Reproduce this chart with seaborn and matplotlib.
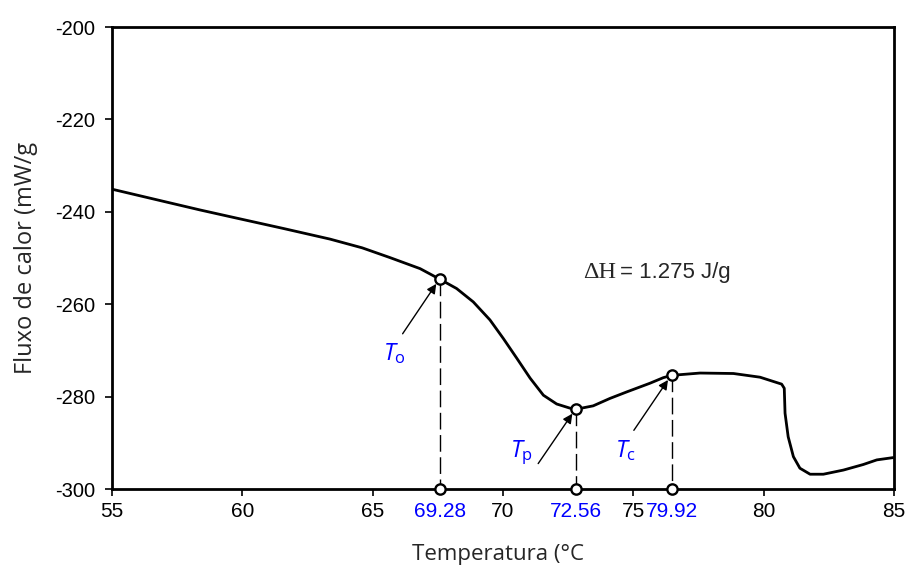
import numpy as np
import pandas as pd
import matplotlib
matplotlib.use("Agg")
import matplotlib.pyplot as plt
import seaborn as sns

# ---- data ----
temp = [55.00, 57.10, 58.38, 59.65, 61.57, 63.36, 64.60, 65.66, 66.82, 67.58,
        68.22, 68.86, 69.50, 70.01, 70.53, 71.04, 71.55, 72.06, 72.57, 72.83,
        73.46, 74.10, 74.74, 75.64, 76.15, 76.47, 77.56, 78.84, 79.86, 80.69,
        80.79, 80.82, 80.94, 81.14, 81.39, 81.78, 82.29, 83.06, 83.82, 84.34, 84.97]
flux = [-235.1, -237.9, -239.6, -241.2, -243.6, -245.9, -247.8, -249.9, -252.3, -254.6,
        -256.6, -259.5, -263.4, -267.4, -271.7, -276.0, -279.7, -281.6, -282.5, -282.7,
        -282.0, -280.4, -279.0, -277.1, -275.9, -275.4, -274.9, -275.0, -275.8, -277.3,
        -278.2, -283.6, -288.7, -293.0, -295.5, -296.8, -296.8, -295.9, -294.7, -293.7, -293.2]

# characteristic points (marker positions on the curve) and their labels
point_x = [67.58, 72.80, 76.47]
point_y = [-254.6, -282.7, -275.4]
point_labels = ["69.28", "72.56", "79.92"]
point_names = [r"$\mathit{T}_\mathrm{o}$", r"$\mathit{T}_\mathrm{p}$", r"$\mathit{T}_\mathrm{c}$"]
name_pos = [(65.40, -272.2), (70.27, -293.1), (74.29, -293.1)]
arrow_tail = [(66.15, -266.4), (71.35, -294.5), (75.02, -287.3)]

xticks = [55, 60, 65, 70, 75, 80, 85]
yticks = [-300, -280, -260, -240, -220, -200]

dh_symbol_pos = (73.07, -253.2)
dh_value_pos = (74.49, -253.2)

# ---- style ----
sns.set_theme(style="white")
plt.rcParams["font.family"] = ["Liberation Sans", "DejaVu Sans"]
plt.rcParams["axes.unicode_minus"] = False
plt.rcParams["mathtext.fontset"] = "custom"
plt.rcParams["mathtext.it"] = "Open Sans:italic"
plt.rcParams["mathtext.rm"] = "Open Sans"
plt.rcParams["lines.solid_joinstyle"] = "round"

fig = plt.figure(figsize=(9.08, 5.70), dpi=100)
ax = fig.add_axes([0.1233, 0.1421, 0.8613, 0.8105])

df = pd.DataFrame({"T": temp, "F": flux})
sns.lineplot(data=df, x="T", y="F", ax=ax, color="black", lw=2.0, sort=False, zorder=3)

blue = "#0000FF"
for px, py in zip(point_x, point_y):
    ax.plot([px, px], [py, -300], color="black", lw=1.0, dashes=(12, 4), zorder=2)

mk = dict(marker="o", s=55, facecolor="white", edgecolor="black", linewidth=1.7, zorder=5, clip_on=False)
sns.scatterplot(x=point_x, y=point_y, ax=ax, **mk)
sns.scatterplot(x=point_x, y=[-300] * len(point_x), ax=ax, **mk)

for (nx, ny), name in zip(name_pos, point_names):
    ax.text(nx, ny, name, color=blue, fontsize=17, ha="left", va="baseline")

for (tx, ty), hx, hy in zip(arrow_tail, point_x, point_y):
    ax.annotate("", xy=(hx - 0.14, hy - 1.0), xytext=(tx, ty),
                arrowprops=dict(arrowstyle="-|>", color="black", lw=1.0,
                                mutation_scale=14, shrinkA=0, shrinkB=0), zorder=4)

ax.text(dh_symbol_pos[0], dh_symbol_pos[1], "ΔH", family="Liberation Serif",
        fontsize=17.5, ha="left", va="center")
ax.text(dh_value_pos[0], dh_value_pos[1], "= 1.275 J/g", fontsize=16,
        ha="left", va="center")

ax.set_xlim(55, 85)
ax.set_ylim(-300, -200)
ax.set_xticks(xticks)
ax.set_yticks(yticks)
ax.tick_params(axis="x", direction="out", length=5, width=1.2, labelsize=15, pad=4,
               bottom=True, top=False, colors="black")
ax.tick_params(axis="y", direction="out", length=5, width=1.2, labelsize=14.5, pad=7,
               left=True, right=False, colors="black")

for px, lab in zip(point_x, point_labels):
    ax.annotate(lab, xy=(px, 0), xycoords=("data", "axes fraction"),
                xytext=(0, -(5 + 4)), textcoords="offset points",
                ha="center", va="top", fontsize=15, color=blue)

for s in ax.spines.values():
    s.set_color("black")
    s.set_linewidth(2.0)
    s.set_visible(True)

ax.set_xlabel("Temperatura (°C", fontsize=16, family="Open Sans")
ax.xaxis.set_label_coords(0.493, -0.12)
ax.set_ylabel("Fluxo de calor (mW/g", fontsize=17, family="Open Sans")
ax.yaxis.set_label_coords(-0.095, 0.5)

fig.savefig("out.png", dpi=100)
